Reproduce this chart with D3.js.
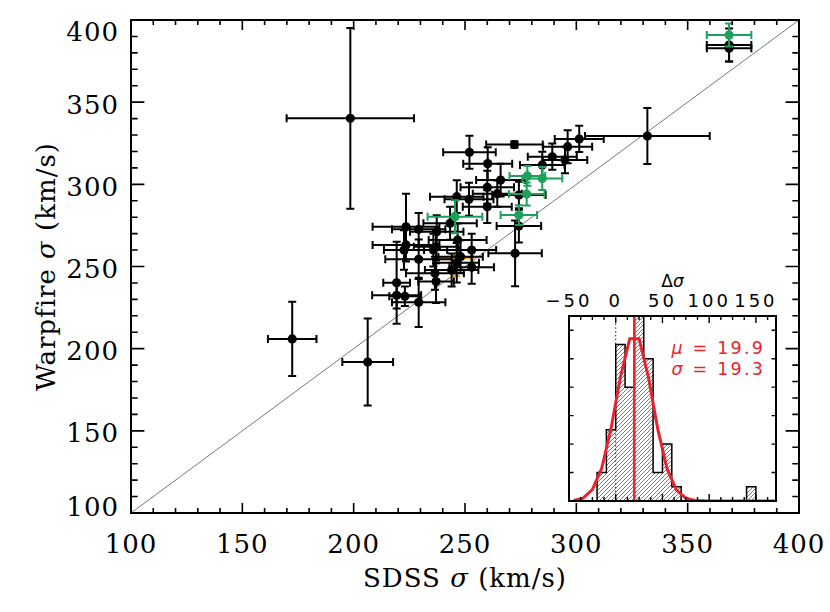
<!DOCTYPE html>
<html>
<head>
<meta charset="utf-8">
<script src="https://cdn.jsdelivr.net/npm/d3@7"></script>
<style>
  body { margin: 0; background: #fff; }
  svg { display: block; }
  .tick-label { font-family: "DejaVu Serif", serif; font-size: 26px; letter-spacing: 1px; fill: #000; }
  .axis-title { font-family: "DejaVu Serif", serif; font-size: 26px; letter-spacing: 1px; fill: #000; }
  .inset-label { font-family: "DejaVu Sans", sans-serif; font-size: 18px; letter-spacing: 3px; fill: #000; }
  .stat { font-family: "DejaVu Sans", sans-serif; font-size: 17.5px; letter-spacing: 2.2px; fill: #e8232d; }
</style>
</head>
<body>
<script>
// black points: SDSS sigma, error, Warpfire sigma, error
var blackX    = [198.5,172.4,206.3,331.9,368.6,368.6,223.5,229.2,237.3,223.5,222.6,229.2,219.3,219.3,223.0,229.2,246.3,251.8,260.0,264.5,260.0,243.3,235.8,246.7,253.0,236.5,244.0,246.3,253.0,237.0,252.0,272.2,301.3,296.1,289.2,294.9,260.2,266.0,274.2,274.2,272.5,237.0,248.0,284.7];
var blackXErr = [28.6,10.9,11.4,28,10,10,15,12,12,15,9,15,6,11,7,12,12,11,12,11,11,12,12,13,11,13,12,10,10,8,11.8,12.7,11,11,11,10,11,11,12,10,12,10,10,10];
var blackY    = [340.2,205.9,191.9,329.4,384.8,382.8,274.2,272.6,271.2,263.1,260.0,254.4,240.1,232.5,231.9,228.2,292.5,290.9,298.2,294.3,286.4,276.3,260.0,266.1,260.0,245.9,247.9,252.3,249.5,240.8,319.5,324.2,327.6,322.9,316.8,314.8,312.6,302.6,293.5,274.6,258.0,262.0,256.0,311.8];
var blackYErr = [55,22.6,26.5,17,10,8,20,10,10,10,12,12,25,8,6,15,10,10,10,8,10,10,10,10,10,10,10,12,10,13,10,2,8,10,8,8,10,10,8,10,20,10,10,8];

var greenX    = [368.6,284.7,278.0,277.7,274.2,245.5];
var greenXErr = [10,9,8,8,8.2,12.3];
var greenY    = [390.9,303.6,305.1,294.1,281.3,280.3];
var greenYErr = [7,7,6,7,6,10];

var orangeX    = [246.0];
var orangeXErr = [7.7];
var orangeY    = [255.0];
var orangeYErr = [11];

var xTicks = [100,150,200,250,300,350,400];
var yTicks = [100,150,200,250,300,350,400];

// inset histogram of delta sigma (bins of 10 from -20)
var binEdges = [-20,-10,0,10,20,30,40,50,60,70,80,90,100,110,120,130,140,150];
var binCounts = [2,5,11,8,13,10,2,4,1,0,0,0,0,0,0,0,1];
var gaussX = [-45,-35,-25,-15,-5,5,15,25,35,45,55,65,75,85,95,105,115,125,135,145,155,165,175];
var gaussY = [0.04,0.2,0.8,2.3,5.1,8.7,11.4,11.4,8.7,5.05,2.25,0.77,0.2,0.04,0.01,0,0,0,0,0,0,0,0];
var insetTicks = [-50,0,50,100,150];
var mu = 19.9, sig = 19.3;

var W = 830, H = 612;
var svg = d3.select("body").append("svg").attr("width", W).attr("height", H);

// plot frame
var mL = 131, mR = 799, mT = 20, mB = 513;
var x = d3.scaleLinear().domain([100,400]).range([mL,mR]);
var y = d3.scaleLinear().domain([100,400]).range([mB,mT]);

var defs = svg.append("defs");
defs.append("clipPath").attr("id","mainclip").append("rect")
  .attr("x",mL).attr("y",mT).attr("width",mR-mL).attr("height",mB-mT);

// 1:1 line
svg.append("line")
  .attr("x1", x(100)).attr("y1", y(100)).attr("x2", x(400)).attr("y2", y(400))
  .attr("stroke", "#555").attr("stroke-width", 0.8);

function drawPoints(xs, xe, ys, ye, color) {
  var g = svg.append("g").attr("clip-path","url(#mainclip)")
    .attr("stroke", color).attr("stroke-width", 2).attr("fill", color);
  xs.forEach(function(v, i) {
    var cx = x(v), cy = y(ys[i]);
    var x0 = x(v - xe[i]), x1 = x(v + xe[i]);
    var y0 = y(ys[i] - ye[i]), y1 = y(ys[i] + ye[i]);
    var cap = 4;
    g.append("path").attr("fill","none")
      .attr("d", "M"+x0+","+cy+"H"+x1 +
                 "M"+x0+","+(cy-cap)+"V"+(cy+cap) +
                 "M"+x1+","+(cy-cap)+"V"+(cy+cap) +
                 "M"+cx+","+y0+"V"+y1 +
                 "M"+(cx-cap)+","+y0+"H"+(cx+cap) +
                 "M"+(cx-cap)+","+y1+"H"+(cx+cap));
    g.append("circle").attr("cx", cx).attr("cy", cy).attr("r", 4.6).attr("stroke","none");
  });
}
drawPoints(orangeX, orangeXErr, orangeY, orangeYErr, "#f2a20c");
drawPoints(blackX, blackXErr, blackY, blackYErr, "#000");
drawPoints(greenX, greenXErr, greenY, greenYErr, "#1ea05a");

// frame and ticks (IDL-style, inward on all sides)
var axes = svg.append("g").attr("stroke","#000").attr("fill","none");
axes.append("rect").attr("x",mL).attr("y",mT).attr("width",mR-mL).attr("height",mB-mT)
  .attr("stroke-width",2);
d3.range(110, 400, 10).forEach(function(v) {
  var len = (v % 50 === 0) ? 10 : 5;
  axes.append("path").attr("stroke-width",1.6)
    .attr("d","M"+x(v)+","+mB+"v"+(-len)+"M"+x(v)+","+mT+"v"+len);
  var ylen = (v % 50 === 0) ? 13.4 : 6.7;
  axes.append("path").attr("stroke-width",1.6)
    .attr("d","M"+mL+","+y(v)+"h"+ylen+"M"+mR+","+y(v)+"h"+(-ylen));
});

svg.selectAll(".xlab").data(xTicks).enter().append("text")
  .attr("class","tick-label").attr("x", d => x(d)).attr("y", 553)
  .attr("text-anchor","middle").text(d => d);
// end labels are nudged inside the axis range, as in the original
svg.selectAll(".ylab").data(yTicks).enter().append("text")
  .attr("class","tick-label").attr("x", 119)
  .attr("y", d => y(d) + (d === 400 ? 20.5 : d === 100 ? 2.5 : 11.5))
  .attr("text-anchor","end").text(d => d);

var xt = svg.append("text").attr("class","axis-title")
  .attr("x", (mL+mR)/2).attr("y", 587).attr("text-anchor","middle");
xt.append("tspan").text("SDSS ");
xt.append("tspan").attr("font-style","italic").text("σ");
xt.append("tspan").text(" (km/s)");

var yt = svg.append("text").attr("class","axis-title")
  .attr("transform","translate(55,"+((mT+mB)/2)+") rotate(-90)")
  .attr("text-anchor","middle");
yt.append("tspan").text("Warpfire ");
yt.append("tspan").attr("font-style","italic").text("σ");
yt.append("tspan").text(" (km/s)");

// ---------- inset ----------
var il = 569, ir = 776, it = 316, ib = 501;
var ix = d3.scaleLinear().domain([-50,171.5]).range([il,ir]);
var iy = d3.scaleLinear().domain([0,13]).range([ib,it]);

svg.append("rect").attr("x",il).attr("y",it).attr("width",ir-il).attr("height",ib-it).attr("fill","#fff");
defs.append("clipPath").attr("id","insetclip").append("rect")
  .attr("x",il).attr("y",it).attr("width",ir-il).attr("height",ib-it);
var hp = defs.append("pattern").attr("id","hatch").attr("patternUnits","userSpaceOnUse")
  .attr("width",4).attr("height",4);
hp.append("path").attr("d","M-1,1l2,-2M0,4l4,-4M3,5l2,-2").attr("stroke","#444").attr("stroke-width",0.7);

var inset = svg.append("g").attr("clip-path","url(#insetclip)");

// dotted zero line
inset.append("line").attr("x1",ix(0)).attr("x2",ix(0)).attr("y1",it).attr("y2",ib)
  .attr("stroke","#000").attr("stroke-width",1).attr("stroke-dasharray","1.3,2.5");

var steps = [[binEdges[0],0]];
binCounts.forEach(function(c, i) { steps.push([binEdges[i],c]); steps.push([binEdges[i+1],c]); });
steps.push([binEdges[binEdges.length-1],0]);
var stepLine = d3.line().x(d => ix(d[0])).y(d => iy(d[1]));
inset.append("path").attr("d", stepLine(steps)).attr("fill","url(#hatch)")
  .attr("stroke","#000").attr("stroke-width",1.5);

inset.append("path")
  .attr("d", d3.line().x((d,i) => ix(d)).y((d,i) => iy(gaussY[i]))(gaussX))
  .attr("fill","none").attr("stroke","#e8232d").attr("stroke-width",3);
inset.append("line").attr("x1",ix(mu)).attr("x2",ix(mu)).attr("y1",it).attr("y2",ib)
  .attr("stroke","#e8232d").attr("stroke-width",2.5);

var iaxes = svg.append("g").attr("stroke","#000").attr("fill","none");
iaxes.append("rect").attr("x",il).attr("y",it).attr("width",ir-il).attr("height",ib-it).attr("stroke-width",2);
d3.range(-50, 171.5, 12.5).forEach(function(v) {
  var len = (v % 50 === 0) ? 7 : 4;
  iaxes.append("path").attr("stroke-width",1.4)
    .attr("d","M"+ix(v)+","+it+"v"+len+"M"+ix(v)+","+ib+"v"+(-len));
});
d3.range(2, 13, 2).forEach(function(v) {
  iaxes.append("path").attr("stroke-width",1.4)
    .attr("d","M"+il+","+iy(v)+"h4.5M"+ir+","+iy(v)+"h-4.5");
});

svg.selectAll(".ilab").data(insetTicks).enter().append("text")
  .attr("class","inset-label").attr("x", d => ix(d)).attr("y", 307)
  .attr("text-anchor","middle").text(d => d < 0 ? "\u2212" + (-d) : d);
var dt = svg.append("text").attr("class","inset-label").attr("x",(il+ir)/2).attr("y",287)
  .attr("text-anchor","middle").style("font-size","17px").style("letter-spacing","0px");
dt.append("tspan").text("Δ");
dt.append("tspan").attr("font-style","italic").text("σ");

var t1 = svg.append("text").attr("class","stat").attr("x",765).attr("y",354).attr("text-anchor","end");
t1.append("tspan").attr("font-style","italic").text("μ");
t1.append("tspan").text(" = " + mu.toFixed(1));
var t2 = svg.append("text").attr("class","stat").attr("x",765).attr("y",375).attr("text-anchor","end");
t2.append("tspan").attr("font-style","italic").text("σ");
t2.append("tspan").text(" = " + sig.toFixed(1));
</script>
</body>
</html>
